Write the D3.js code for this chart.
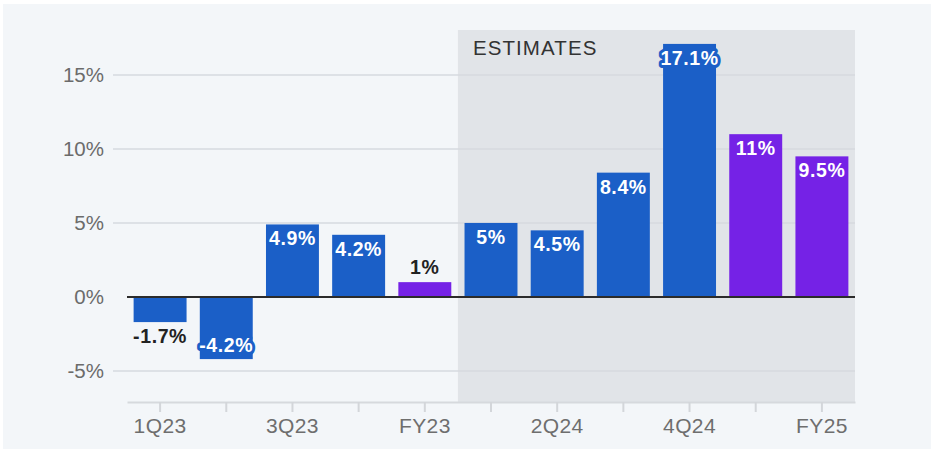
<!DOCTYPE html>
<html>
<head>
<meta charset="utf-8">
<script src="https://cdn.jsdelivr.net/npm/d3@7"></script>
<style>
  html, body { margin: 0; padding: 0; background: #ffffff; }
  svg { display: block; }
</style>
</head>
<body>
<svg id="chart" width="934" height="451"></svg>
<script>
const categories = ["1Q23", "2Q23", "3Q23", "4Q23", "FY23", "1Q24", "2Q24", "3Q24", "4Q24", "FY24", "FY25"];
const values = [-1.7, -4.2, 4.9, 4.2, 1, 5, 4.5, 8.4, 17.1, 11, 9.5];
const valueLabels = ["-1.7%", "-4.2%", "4.9%", "4.2%", "1%", "5%", "4.5%", "8.4%", "17.1%", "11%", "9.5%"];
const barKinds = ["q", "q", "q", "q", "fy", "q", "q", "q", "q", "fy", "fy"];
const shownTickLabels = ["1Q23", "3Q23", "FY23", "2Q24", "4Q24", "FY25"];
const yTicks = [-5, 0, 5, 10, 15];
const estimatesStart = "1Q24";
const estimatesLabel = "ESTIMATES";

const colors = { q: "#1b5fc7", fy: "#7522e6" };

const svg = d3.select("#chart");
const W = 934, H = 451;

// backgrounds
svg.append("rect").attr("x", 0).attr("y", 0).attr("width", W).attr("height", H).attr("fill", "#ffffff");
svg.append("rect").attr("x", 3).attr("y", 4).attr("width", W - 6).attr("height", H - 6).attr("fill", "#f3f6f9");

const x = d3.scaleBand().domain(categories).range([127, 855]).paddingInner(0.2).paddingOuter(0.1);
const step = x.step();
const y = d3.scaleLinear().domain([-7.1, 18.04]).range([402, 30]);

// estimates shading
const shadeX = x(estimatesStart) - x.paddingInner() * step / 2;
svg.append("rect")
  .attr("x", shadeX).attr("y", y(18.04))
  .attr("width", 855 - shadeX).attr("height", y(-7.1) - y(18.04))
  .attr("fill", "#e1e4e8");

svg.append("text")
  .attr("x", shadeX + 15).attr("y", 55)
  .attr("font-family", "Liberation Sans, Arial, sans-serif")
  .attr("font-size", 20.5).attr("letter-spacing", 1.1)
  .attr("fill", "#333")
  .text(estimatesLabel);

// gridlines
svg.append("g").selectAll("line")
  .data(yTicks.filter(d => d !== 0))
  .join("line")
  .attr("x1", 113).attr("x2", 855)
  .attr("y1", d => y(d)).attr("y2", d => y(d))
  .attr("stroke", "#d6dadf").attr("stroke-width", 1.5);

// y labels
svg.append("g").selectAll("text")
  .data(yTicks)
  .join("text")
  .attr("x", 104).attr("y", d => y(d)).attr("dy", "0.36em")
  .attr("text-anchor", "end")
  .attr("font-family", "Liberation Sans, Arial, sans-serif")
  .attr("font-size", 20.5).attr("fill", "#6b6b6b")
  .text(d => d + "%");

// x axis
const xAxis = d3.axisBottom(x)
  .tickSize(10).tickSizeOuter(0)
  .tickFormat(d => shownTickLabels.includes(d) ? d : "");
const gx = svg.append("g").attr("transform", `translate(0,${y(-7.1)})`).call(xAxis);
gx.select(".domain").attr("stroke", "#d6d9dd").attr("stroke-width", 2);
gx.selectAll(".tick line").attr("stroke", "#d3d6da").attr("stroke-width", 2);
gx.selectAll(".tick text")
  .attr("font-family", "Liberation Sans, Arial, sans-serif")
  .attr("font-size", 21).attr("letter-spacing", 0.4).attr("fill", "#6e6e6e")
  .attr("y", 16).attr("dy", "0.71em");

// bars
const data = categories.map((c, i) => ({ c, v: values[i], label: valueLabels[i], kind: barKinds[i] }));
svg.append("g").selectAll("rect")
  .data(data)
  .join("rect")
  .attr("x", d => x(d.c))
  .attr("width", x.bandwidth())
  .attr("y", d => y(Math.max(0, d.v)))
  .attr("height", d => Math.abs(y(d.v) - y(0)))
  .attr("fill", d => colors[d.kind]);

// zero line
svg.append("line")
  .attr("x1", 127).attr("x2", 855)
  .attr("y1", y(0)).attr("y2", y(0))
  .attr("stroke", "#2b2b2b").attr("stroke-width", 2);

// value labels
const minInside = 30;
svg.append("g").selectAll("text")
  .data(data)
  .join("text")
  .each(function (d) {
    const h = Math.abs(y(d.v) - y(0));
    const inside = h > minInside;
    const t = d3.select(this);
    let ty;
    if (d.v >= 0) ty = inside ? y(d.v) + 21 : y(d.v) - 8;
    else ty = inside ? y(d.v) - 7 : y(d.v) + 21;
    t.attr("x", x(d.c) + x.bandwidth() / 2)
      .attr("y", ty)
      .attr("text-anchor", "middle")
      .attr("font-family", "Liberation Sans, Arial, sans-serif")
      .attr("font-weight", "bold")
      .attr("font-size", 19.5)
      .attr("letter-spacing", 0.6)
      .attr("fill", inside ? "#ffffff" : "#222222");
    if (inside) {
      t.attr("stroke", colors[d.kind]).attr("stroke-width", 6)
        .attr("stroke-linejoin", "round").attr("paint-order", "stroke");
    }
    t.text(d.label);
  });
</script>
</body>
</html>
